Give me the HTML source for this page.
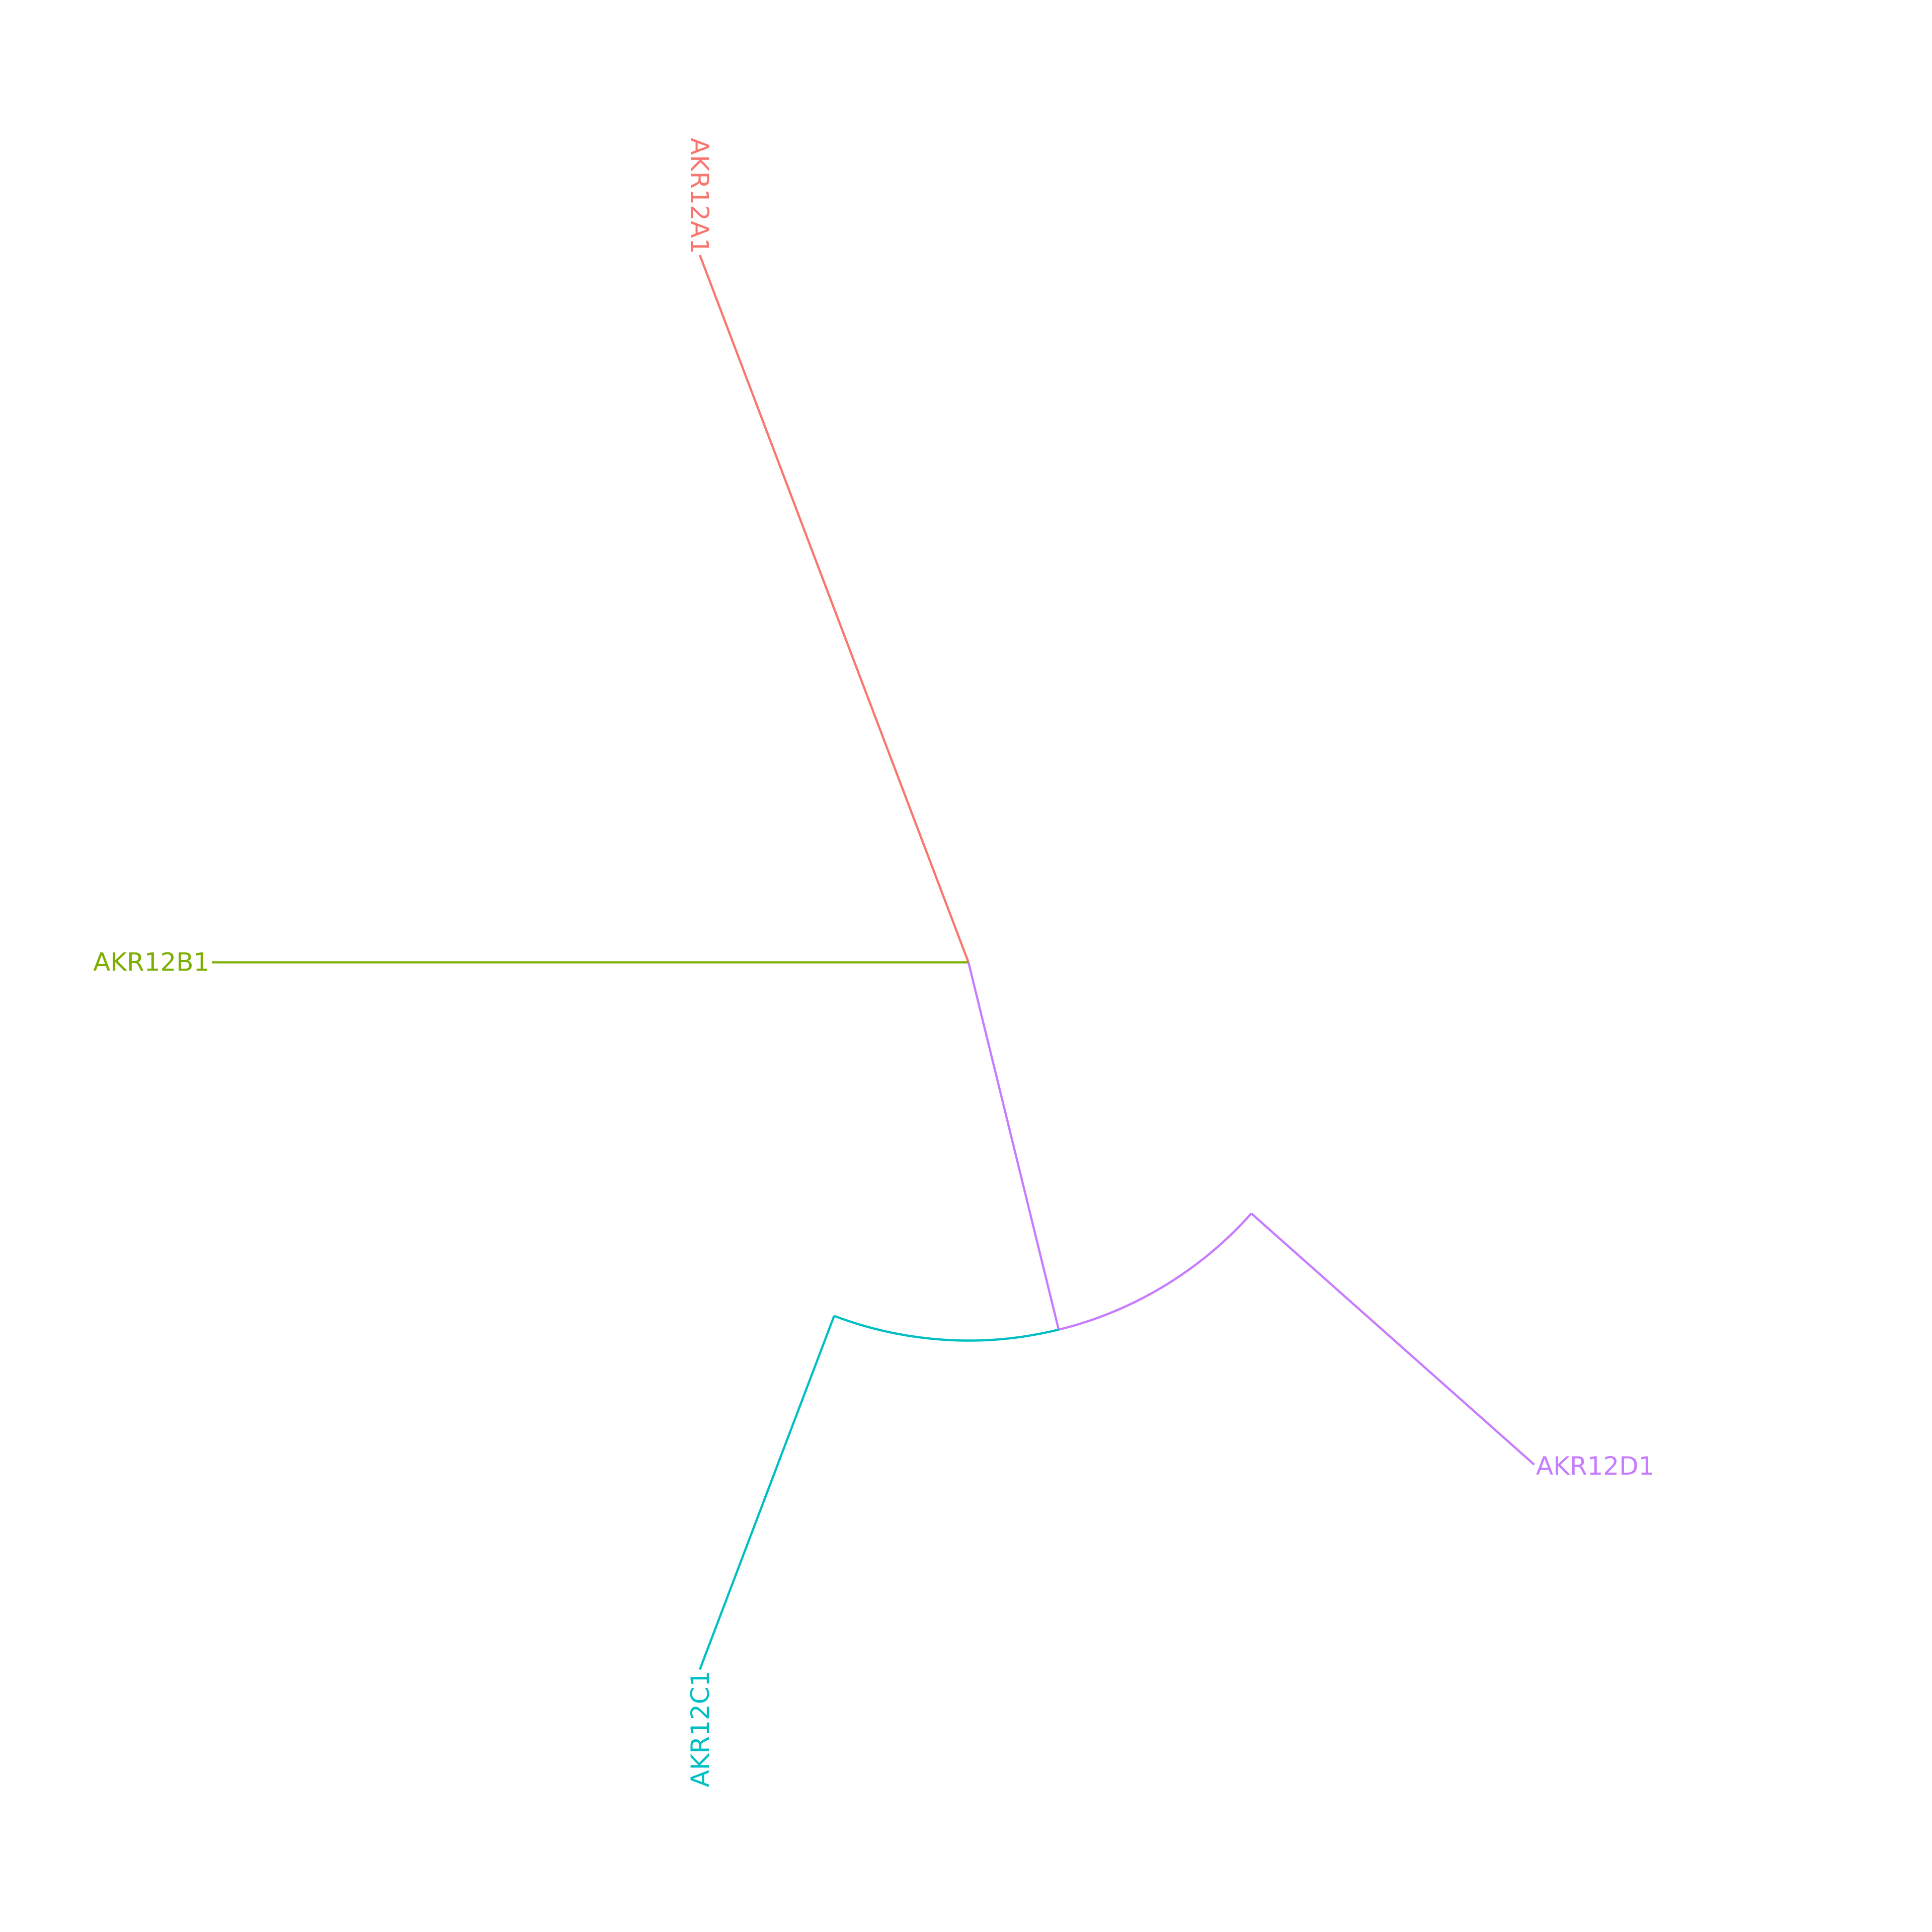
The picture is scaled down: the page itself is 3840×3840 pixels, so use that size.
<!DOCTYPE html>
<html><head><meta charset="utf-8"><style>html,body{margin:0;padding:0;background:#fff}svg{display:block}</style></head>
<body>
<svg width="3840" height="3840" viewBox="0 0 1568 1568" xmlns="http://www.w3.org/2000/svg" font-family="DejaVu Sans, Liberation Sans, sans-serif">
<rect width="1568" height="1568" fill="#fff"/>
<g id="tree"></g>
</svg>
<script>
const tipNames = ["AKR12A1","AKR12B1","AKR12C1","AKR12D1"];
const tipAngles = [249.2, 180, 110.8, 41.6];
const tipBranchLengths = [614, 614, 307, 307];
const internalBranchLength = [307];
const tipColors = ["#F8766D","#7CAE00","#00BFC4","#C77CFF"];
const cx = 786, cy = 781, sw = 1.8, fs = 20.4;
const ns = "http://www.w3.org/2000/svg";
const g = document.getElementById('tree');
function pt(r, a){const t=a*Math.PI/180;return [cx+r*Math.cos(t), cy+r*Math.sin(t)];}
function line(p1,p2,c,name){const l=document.createElementNS(ns,'line');l.setAttribute('x1',p1[0]);l.setAttribute('y1',p1[1]);l.setAttribute('x2',p2[0]);l.setAttribute('y2',p2[1]);l.setAttribute('stroke',c);l.setAttribute('stroke-width',sw);


g.appendChild(l);}
function arc(r,a1,a2,c,name){const p1=pt(r,a1),p2=pt(r,a2);const p=document.createElementNS(ns,'path');p.setAttribute('d',`M${p1[0]},${p1[1]} A${r},${r} 0 0 ${a2>a1?1:0} ${p2[0]},${p2[1]}`);p.setAttribute('fill','none');p.setAttribute('stroke',c);p.setAttribute('stroke-width',sw);


g.appendChild(p);}
const inAng=(tipAngles[2]+tipAngles[3])/2, inR=internalBranchLength[0];
line([cx,cy],pt(tipBranchLengths[0],tipAngles[0]),tipColors[0],'branch-akr12a1');
line([cx,cy],pt(tipBranchLengths[1],tipAngles[1]),tipColors[1],'branch-akr12b1');
line([cx,cy],pt(inR,inAng),tipColors[3],'internal-branch');
arc(inR,tipAngles[2],inAng,tipColors[2],'arc-akr12c1');
arc(inR,inAng,tipAngles[3],tipColors[3],'arc-akr12d1');
line(pt(inR,tipAngles[2]),pt(inR+tipBranchLengths[2],tipAngles[2]),tipColors[2],'branch-akr12c1');
line(pt(inR,tipAngles[3]),pt(inR+tipBranchLengths[3],tipAngles[3]),tipColors[3],'branch-akr12d1');
const tipR=[tipBranchLengths[0],tipBranchLengths[1],inR+tipBranchLengths[2],inR+tipBranchLengths[3]];
tipNames.forEach((n,i)=>{
  const p=pt(tipR[i]+2,tipAngles[i]);
  const t=document.createElementNS(ns,'text');
  t.textContent=n;t.setAttribute('fill',tipColors[i]);t.setAttribute('font-size',fs);
  t.setAttribute('dominant-baseline','central');
  
  
  let x=p[0],y=p[1],rot=0,anchor='end';
  if(i===0){x=567.5;y=p[1]+1;rot=90;}
  else if(i===1){anchor='end';}
  else if(i===2){x=568.5;y=p[1]-1;rot=-90;}
  else {anchor='start';}
  t.setAttribute('text-anchor',anchor);
  t.setAttribute('transform',`translate(${x},${y}) rotate(${rot})`);
  g.appendChild(t);
});
</script>
</body></html>
